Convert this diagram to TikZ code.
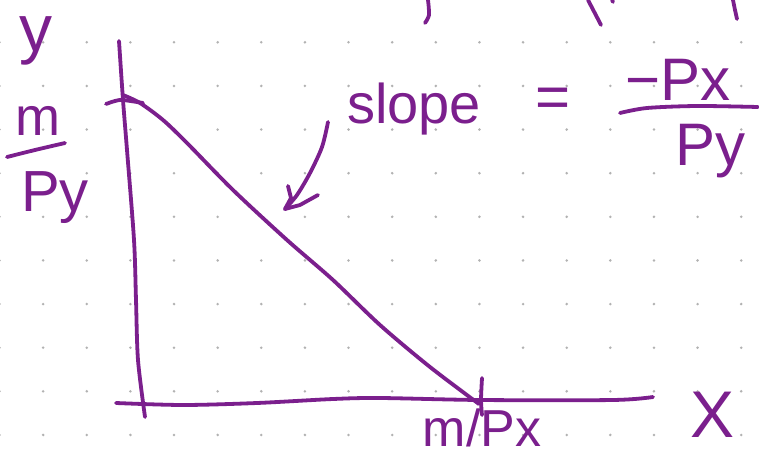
\documentclass[tikz,border=0pt]{standalone}
\usepackage{fontspec}
\setmainfont{Liberation Sans}
\definecolor{ink}{RGB}{123,31,141}
\definecolor{dotgray}{RGB}{178,178,178}
\begin{document}
\begin{tikzpicture}[x=1pt,y=-1pt,
  inkline/.style={draw=ink,line width=3.8pt,line cap=round,line join=round},
  lbl/.style={text=ink,inner sep=0pt,outer sep=0pt},
]
\useasboundingbox (0,0) rectangle (759,465);
\fill[white] (0,0) rectangle (759,465);
% dot grid
\foreach \i in {0,...,17}{\foreach \j in {0,...,9}{
  \fill[dotgray] ({-0.5+43.63*\i},{42.3+43.63*\j}) circle (1.4pt);}}
% axes
\coordinate (ytop) at (119,41);
\coordinate (ybot) at (145,417);
\coordinate (xleft) at (116,403);
\coordinate (xright) at (653,397);
\draw[inkline] plot[smooth] coordinates {(ytop) (123,100) (127,150) (134,240) (136,300) (138,360) (ybot)};
\draw[inkline] plot[smooth] coordinates {(xleft) (183,405) (257,403) (333,399) (380,398) (480,400) (613,400) (xright)};
% budget line
\coordinate (bstart) at (123,95);
\coordinate (bend) at (479,404);
\draw[inkline] plot[smooth] coordinates {(bstart) (140,103) (163,120) (187,143) (233,190) (287,240) (333,280) (380,325) (430,367) (bend)};
% intercept ticks
\draw[inkline] plot[smooth] coordinates {(106,104) (115,101) (123,100) (143,103)};
\draw[inkline] plot[smooth] coordinates {(482,378) (481,400) (482,415)};
% arrow from slope label to line
\coordinate (atail) at (328,122);
\coordinate (ahead) at (285,209);
\draw[inkline] plot[smooth] coordinates {(atail) (322,147) (310,173) (297,195) (ahead)};
\draw[inkline] (288,186) -- (291,198) -- (ahead) -- (300,205) -- (318,195);
% fraction bars
\draw[inkline] plot[smooth] coordinates {(7,157) (35,150) (65,143)};
\draw[inkline] plot[smooth] coordinates {(620,113) (647,108) (697,106) (758,107)};
% cut-off strokes at top edge
\draw[inkline] plot[smooth] coordinates {(428,0) (429,15) (425,23)};
\draw[inkline] (588,0) -- (601,25);
\draw[inkline] (612,0) -- (613,2);
\draw[inkline] plot[smooth] coordinates {(733,0) (735,10) (737,19)};
% labels
\node[lbl,font=\fontsize{66}{66}\selectfont,anchor=base] (ylab) at (36,52) {y};
\node[lbl,font=\fontsize{54}{54}\selectfont,anchor=base] (mleft) at (38,136) {m};
\node[lbl,font=\fontsize{58}{58}\selectfont,anchor=north] (pyleft) at (55,172) {Py};
\node[lbl,font=\fontsize{56}{56}\selectfont,anchor=base west] (slope) at (347,124) {slope};
\node[lbl,font=\fontsize{60}{60}\selectfont] (eq) at (553,103) {=};
\node[lbl,font=\fontsize{60}{60}\selectfont,anchor=base] (num) at (678,101) {−Px};
\node[lbl,font=\fontsize{60}{60}\selectfont,anchor=north] (den) at (710,124) {Py};
\node[lbl,font=\fontsize{52}{52}\selectfont,anchor=base] (mpx) at (482,446) {m/Px};
\node[lbl,font=\fontsize{66}{66}\selectfont] (xlab) at (712,415) {X};
\end{tikzpicture}
\end{document}
